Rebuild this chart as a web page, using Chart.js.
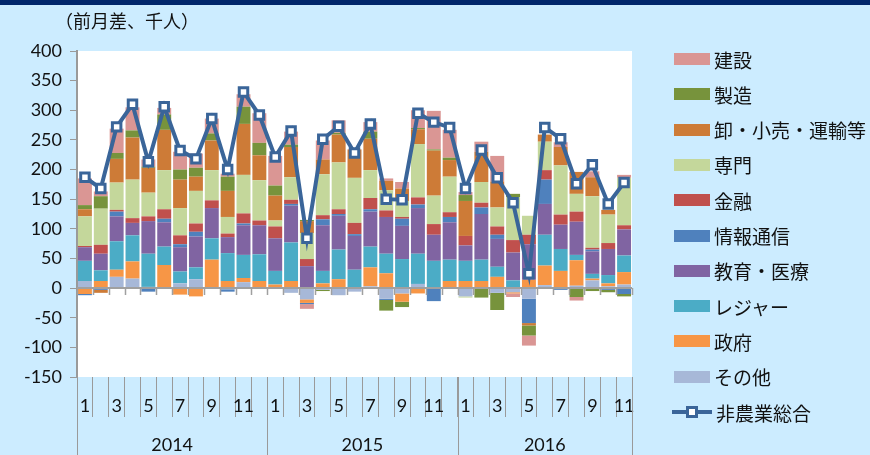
<!DOCTYPE html>
<html>
<head>
<meta charset="utf-8">
<script src="https://cdn.jsdelivr.net/npm/chart.js@4.4.0/dist/chart.umd.min.js"></script>
<style>
html,body{margin:0;padding:0;}
body{width:870px;height:455px;background:#CCECFF;position:relative;overflow:hidden;font-family:'Noto Sans CJK JP',sans-serif;}
#topbar{position:absolute;left:0;top:0;width:870px;height:5px;background:#00266B;}
#title{position:absolute;left:55px;top:8px;font-size:18px;line-height:24px;color:#111;white-space:nowrap;}
#c{position:absolute;left:0;top:0;}
.li{position:absolute;left:674px;height:24px;display:flex;align-items:center;font-size:19px;color:#111;white-space:nowrap;}
.sw{width:36px;height:12px;margin-right:4px;}
.lsw{position:relative;width:40px;height:24px;margin-right:2px;left:-2px;}
.lsw .ln{position:absolute;left:0;top:10px;width:40px;height:4px;}
.lsw .pt{position:absolute;left:14px;top:6px;width:6px;height:6px;background:#fff;border:3px solid;}
</style>
</head>
<body>
<div id="topbar"></div>
<canvas id="c" width="870" height="455"></canvas>
<div id="title">（前月差、千人）</div>
<div id="legend"></div>
<script>
// ---- data ----
const months = ['1','2','3','4','5','6','7','8','9','10','11','12',
                '1','2','3','4','5','6','7','8','9','10','11','12',
                '1','2','3','4','5','6','7','8','9','10','11'];
const years = ['2014','2015','2016'];
const yearStarts = [0, 12, 24, 35];

const other     = [12,0,19,16,2,0,8,15,0,-2,10,0, 0,-8,-19,-3,-12,-6,3,-18,-9,7,0,0, -14,0,-8,-7,-18,5,0,4,13,3,6];
const gov       = [-10,12,12,29,0,39,-11,-14,48,12,7,12, 6,12,-6,8,15,0,32,25,-14,-9,0,12, 12,12,19,-2,14,33,29,43,3,5,21];
const leisure   = [34,18,48,44,56,31,20,20,36,47,39,45, 23,65,0,21,50,31,35,33,49,51,46,36, 34,36,17,13,0,52,37,9,8,14,28];
const eduHealth = [23,28,42,21,55,41,41,52,51,27,50,49, 55,62,37,77,57,57,59,62,56,77,44,63, 26,77,47,47,60,52,41,56,38,44,44];
const info      = [-2,-3,8,0,-6,6,5,8,0,-4,3,0, 0,3,-2,10,3,3,4,-2,12,6,-22,9, 0,11,7,0,-41,41,-3,0,3,-3,-10];
const finance   = [2,15,3,8,8,16,15,14,13,6,17,8, 20,7,12,7,8,19,19,11,3,12,18,8, 16,8,14,21,16,16,17,17,3,10,7];
const prof      = [50,61,46,65,40,66,46,55,51,28,65,68, 10,38,44,69,79,76,47,34,27,90,48,60, -2,35,32,72,32,48,83,30,87,48,80];
const trade     = [12,-5,40,71,42,68,48,24,50,44,86,42, 42,51,20,25,47,48,53,16,21,25,76,28, 59,51,44,0,-4,12,31,37,32,8,0];
const mfg       = [7,21,10,12,2,26,17,15,12,24,29,21, 17,4,2,-2,3,0,12,-18,-9,2,2,4, 10,-16,-29,6,-17,0,0,-15,-5,-4,-4];
const constr    = [45,8,41,39,12,11,30,24,25,5,21,50, 50,22,-8,32,21,0,16,4,11,30,65,47, 5,17,43,-6,-17,0,8,-6,10,0,5];
const nonfarm   = [187,168,272,310,213,306,232,218,286,200,331,292, 221,265,84,251,273,228,277,150,149,295,280,271, 168,233,186,144,24,271,252,176,208,142,178];

// stacking order: bottom -> top
const barNames  = ['その他','政府','レジャー','教育・医療','情報通信','金融','専門','卸・小売・運輸等','製造','建設'];
const barData   = [other, gov, leisure, eduHealth, info, finance, prof, trade, mfg, constr];
const barColors = ['#A7B8D8','#F79646','#4BACC6','#8064A2','#4F81BD','#C0504D','#C4D79B','#CD7B37','#77933C','#DA9694'];
const lineName  = '非農業総合';
const lineColor = '#3A6599';

// ---- legend (HTML) ----
const legend = document.getElementById('legend');
const legendTop = 59, legendStep = 35.3;
for (let k = 0; k < barNames.length; k++) {
  const idx = barNames.length - 1 - k;
  const d = document.createElement('div');
  d.className = 'li';
  d.style.top = (legendTop + k * legendStep - 12) + 'px';
  d.innerHTML = '<div class="sw" style="background:' + barColors[idx] + '"></div><span>' + barNames[idx] + '</span>';
  legend.appendChild(d);
}
{
  const d = document.createElement('div');
  d.className = 'li';
  d.style.top = (legendTop + barNames.length * legendStep - 12) + 'px';
  d.innerHTML = '<div class="lsw"><div class="ln" style="background:' + lineColor + '"></div><div class="pt" style="border-color:' + lineColor + '"></div></div><span>' + lineName + '</span>';
  legend.appendChild(d);
}

// ---- plugins ----
const bgPlugin = {
  id: 'bg',
  beforeDraw(chart) {
    const a = chart.chartArea, c = chart.ctx;
    c.save();
    c.fillStyle = '#FFFFFF';
    c.fillRect(a.left, a.top, a.right - a.left, a.bottom - a.top);
    c.restore();
  }
};
const axisPlugin = {
  id: 'axisDeco',
  afterDatasetsDraw(chart) {
    const a = chart.chartArea, c = chart.ctx;
    const y = chart.scales.y;
    const n = months.length;
    const w = (a.right - a.left) / n;
    const y0 = y.getPixelForValue(0);
    c.save();
    // zero axis line with ticks
    c.strokeStyle = '#A0A0A0';
    c.lineWidth = 2;
    c.beginPath();
    c.moveTo(a.left, y0); c.lineTo(a.right, y0);
    c.stroke();
    c.lineWidth = 1.5;
    c.beginPath();
    for (let i = 0; i <= n; i++) {
      const px = Math.round(a.left + i * w) + 0.5;
      c.moveTo(px, y0); c.lineTo(px, y0 + 7);
    }
    c.stroke();
    // year separators
    c.strokeStyle = '#9A9A9A';
    c.lineWidth = 1;
    c.beginPath();
    yearStarts.forEach(s => {
      const px = Math.round(a.left + s * w) + 0.5;
      c.moveTo(px, a.bottom); c.lineTo(px, chart.height);
    });
    c.stroke();
    // year labels
    c.fillStyle = '#111';
    c.font = '18px Lato';
    c.textAlign = 'center';
    c.textBaseline = 'middle';
    for (let k = 0; k < years.length; k++) {
      const cx = a.left + (yearStarts[k] + yearStarts[k + 1]) / 2 * w;
      c.fillText(years[k], cx, 445);
    }
    c.restore();
  }
};

// ---- chart ----
const datasets = barData.map((d, i) => ({
  type: 'bar',
  label: barNames[i],
  data: d,
  backgroundColor: barColors[i],
  borderWidth: 0,
  barPercentage: 0.88,
  categoryPercentage: 1.0,
  stack: 'bars',
  order: 1
}));
datasets.push({
  type: 'line',
  label: lineName,
  data: nonfarm,
  borderColor: lineColor,
  borderWidth: 4,
  pointStyle: 'rect',
  pointRadius: 6,
  pointBorderWidth: 3,
  pointBackgroundColor: '#FFFFFF',
  pointBorderColor: lineColor,
  tension: 0,
  stack: 'total',
  order: 0
});

new Chart(document.getElementById('c'), {
  type: 'bar',
  data: { labels: months, datasets },
  options: {
    responsive: false,
    animation: false,
    layout: { padding: { left: 0, right: 238, top: 51, bottom: 0 } },
    plugins: { legend: { display: false }, tooltip: { enabled: false } },
    scales: {
      x: {
        stacked: true,
        offset: true,
        grid: { offset: true, drawOnChartArea: false, drawTicks: true, tickLength: 40, color: '#9A9A9A', lineWidth: 1 },
        border: { display: false },
        ticks: {
          autoSkip: false, maxRotation: 0, minRotation: 0, padding: -22,
          font: { family: 'Lato', size: 18 }, color: '#111',
          callback: (v, i) => (i % 2 === 0 ? months[i] : '')
        },
        afterFit: s => { s.height = 78; }
      },
      y: {
        stacked: true,
        min: -150, max: 400,
        ticks: { stepSize: 50, padding: 8, font: { family: 'Lato', size: 18 }, color: '#111' },
        grid: { drawOnChartArea: false, drawTicks: true, tickLength: 7, color: '#9A9A9A' },
        border: { display: true, color: '#9A9A9A', width: 2 },
        afterFit: s => { s.width = 77; }
      }
    }
  },
  plugins: [bgPlugin, axisPlugin]
});
</script>
</body>
</html>
